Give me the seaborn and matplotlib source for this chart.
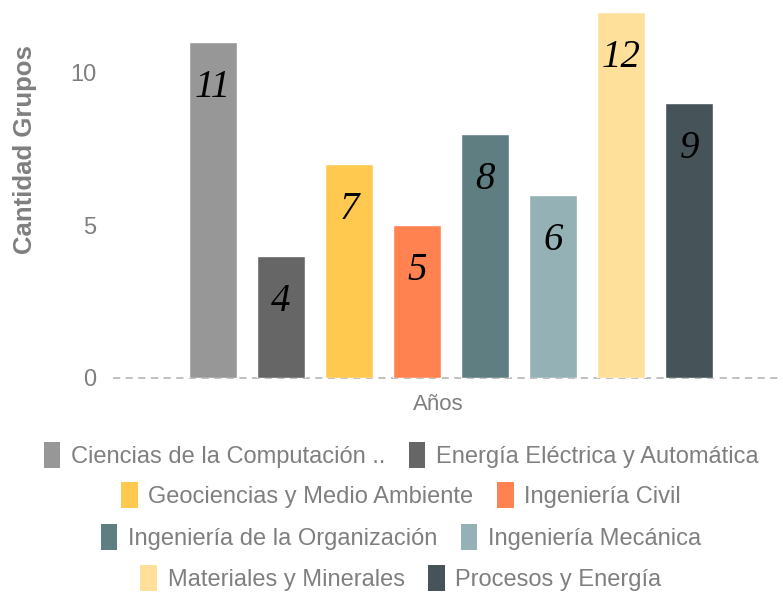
import numpy as np
import pandas as pd
import seaborn as sns
import matplotlib.pyplot as plt
from matplotlib.patches import Patch

# carreras y cantidad de grupos
carreras = ['Ciencias de la Computación ..', 'Energía Eléctrica y Automática',
            'Geociencias y Medio Ambiente', 'Ingeniería Civil',
            'Ingeniería de la Organización', 'Ingeniería Mecánica',
            'Materiales y Minerales', 'Procesos y Energía']
grupos = [11, 4, 7, 5, 8, 6, 12, 9]
colores = ['#979797', '#666666', '#FFC94F', '#FF8250', '#5F7E82',
           '#94B1B6', '#FFE09B', '#46545A']

df = pd.DataFrame({'eje': ['Años'] * len(carreras), 'carrera': carreras, 'grupos': grupos})

sns.set_style('white')
plt.rcParams['font.family'] = ['Liberation Sans', 'DejaVu Sans']
gris = '#7f7f7f'

fig = plt.figure(figsize=(7.83, 5.95), dpi=100)
ax = fig.add_axes([113 / 783, 1 - 378 / 595, 670 / 783, 378 / 595])

sns.barplot(data=df, x='eje', y='grupos', hue='carrera', palette=colores,
            width=0.8, gap=0.3, legend=False, ax=ax, saturation=1)

ax.set_xlim(-0.497, 0.488)
ax.set_ylim(0, 12.39)
ax.set_yticks([0, 5, 10])
ax.tick_params(axis='y', labelsize=17, labelcolor=gris, length=0, pad=12)
ax.set_xticks([])
ax.set_xlabel('')
ax.set_ylabel('')
sns.despine(ax=ax, left=True, bottom=True)
ax.axhline(0, color='#bbbbbb', lw=1.3, ls=(0, (4, 3)), zorder=0, clip_on=False)

# etiquetas dentro de las barras
for cont in ax.containers:
    ax.bar_label(cont, padding=-46, fontsize=28, family='Liberation Serif',
                 style='italic', color='black')

fig.text(25 / 783, 1 - 150 / 595, 'Cantidad Grupos', rotation=90, ha='center', va='center',
         fontsize=18.5, fontweight='bold', color=gris)
fig.text(438 / 783, 1 - 404 / 595, 'Años', ha='center', va='center', fontsize=16, color=gris)

# leyenda en cuatro filas centradas
handles = [Patch(facecolor=c, edgecolor='none') for c in colores]
filas_y = [455, 495, 537, 578]
for i, y in enumerate(filas_y):
    leg = fig.legend(handles[2 * i:2 * i + 2], carreras[2 * i:2 * i + 2], ncol=2,
                     loc='center', bbox_to_anchor=(401 / 783, 1 - y / 595),
                     frameon=False, fontsize=17, handlelength=0.7, handleheight=1.3,
                     handletextpad=0.45, columnspacing=1.0, borderpad=0)
    for t in leg.get_texts():
        t.set_color(gris)

fig.savefig('out.png', dpi=100)
